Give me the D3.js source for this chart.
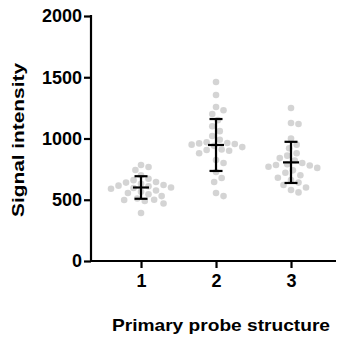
<!DOCTYPE html>
<html><head><meta charset="utf-8">
<script src="https://cdn.jsdelivr.net/npm/d3@7"></script>
<style>html,body{margin:0;padding:0;background:#fff;}svg{display:block;}</style>
</head><body>
<script>
const categories = ["1", "2", "3"];
const group1 = [784, 767, 743, 700, 672, 660, 645, 640, 630, 620, 615, 610, 600, 596, 590, 575, 565, 555, 545, 530, 510, 500, 498, 490, 470, 392];
const group2 = [1461, 1355, 1257, 1230, 1200, 1150, 1100, 1060, 1020, 990, 970, 963, 960, 955, 950, 940, 930, 910, 906, 900, 880, 824, 800, 727, 678, 645, 555, 530];
const group3 = [1249, 1127, 1118, 1000, 950, 920, 880, 860, 840, 820, 800, 790, 784, 780, 770, 760, 740, 720, 700, 680, 660, 640, 620, 600, 580, 560];
const means = [600, 947, 805];
const sds = [92, 212, 168];
const yTicks = [0, 500, 1000, 1500, 2000];
const yTitle = "Signal intensity";
const xTitle = "Primary probe structure";

const W = 340, H = 338;
const svg = d3.select("body").append("svg").attr("width", W).attr("height", H);
const x = d3.scaleLinear().domain([0.333, 3.6]).range([91, 336]);
const y = d3.scaleLinear().domain([0, 2000]).range([261, 16]);
const groups = [group1, group2, group3];
const r = 3.3;

// beeswarm
function swarm(vals, cx) {
  const pts = [];
  const sorted = vals.slice().sort((a, b) => b - a);
  const d = 2 * r + 0.9;
  sorted.forEach(v => {
    const py = y(v);
    let placed = null;
    for (let k = 0; k < 60 && !placed; k++) {
      const cands = k === 0 ? [0] : [k * d * 0.25, -k * d * 0.25];
      for (const off of cands) {
        const px = cx + off;
        if (pts.every(p => (p.x - px) ** 2 + (p.y - py) ** 2 >= d * d)) { placed = {x: px, y: py}; break; }
      }
    }
    pts.push(placed);
  });
  return pts;
}

const g = svg.append("g");
groups.forEach((vals, i) => {
  const cx = x(i + 1);
  const pts = swarm(vals, cx);
  g.selectAll(null).data(pts).enter().append("circle")
    .attr("cx", p => p.x).attr("cy", p => p.y).attr("r", r)
    .attr("fill", "#cfcfcf").attr("fill-opacity", 0.9);
});

// error bars
const eb = svg.append("g").attr("stroke", "#000").attr("stroke-width", 2.2).attr("fill", "none");
means.forEach((m, i) => {
  const cx = x(i + 1);
  const top = y(m + sds[i]), bot = y(m - sds[i]);
  eb.append("line").attr("x1", cx).attr("x2", cx).attr("y1", top).attr("y2", bot);
  eb.append("line").attr("x1", cx - 6.5).attr("x2", cx + 6.5).attr("y1", top).attr("y2", top);
  eb.append("line").attr("x1", cx - 6.5).attr("x2", cx + 6.5).attr("y1", bot).attr("y2", bot);
  eb.append("line").attr("x1", cx - 8).attr("x2", cx + 8).attr("y1", y(m)).attr("y2", y(m));
});

const font = "'Liberation Sans', Arial, sans-serif";
// y axis
const yAxis = svg.append("g").attr("transform", "translate(91,0)")
  .call(d3.axisLeft(y).tickValues(yTicks).tickSize(7).tickPadding(2).tickFormat(d3.format("d")));
// x axis
const xAxis = svg.append("g").attr("transform", "translate(0,261)")
  .call(d3.axisBottom(x).tickValues([1, 2, 3]).tickSize(7).tickPadding(6).tickFormat((d, i) => categories[i]));
[yAxis, xAxis].forEach(a => {
  a.selectAll(".tick line").attr("stroke", "#000").attr("stroke-width", 2.2);
  a.selectAll("text").attr("fill", "#000").attr("font-family", font).attr("font-weight", "bold").attr("font-size", "18px");
});
yAxis.select(".domain").remove();
xAxis.select(".domain").remove();
svg.append("line").attr("x1", 91).attr("x2", 91).attr("y1", y(2000) - 1).attr("y2", 262)
  .attr("stroke", "#000").attr("stroke-width", 2.2);
svg.append("line").attr("x1", 90).attr("x2", 336).attr("y1", 261).attr("y2", 261)
  .attr("stroke", "#000").attr("stroke-width", 2.2);

svg.append("text").attr("transform", "translate(24,140) rotate(-90)")
  .attr("text-anchor", "middle").attr("font-family", font).attr("font-weight", "bold")
  .attr("font-size", "17px").attr("textLength", 154).attr("lengthAdjust", "spacingAndGlyphs").text(yTitle);
svg.append("text").attr("x", 221).attr("y", 331)
  .attr("text-anchor", "middle").attr("font-family", font).attr("font-weight", "bold")
  .attr("font-size", "17px").attr("textLength", 218).attr("lengthAdjust", "spacingAndGlyphs").text(xTitle);
</script>
</body></html>
